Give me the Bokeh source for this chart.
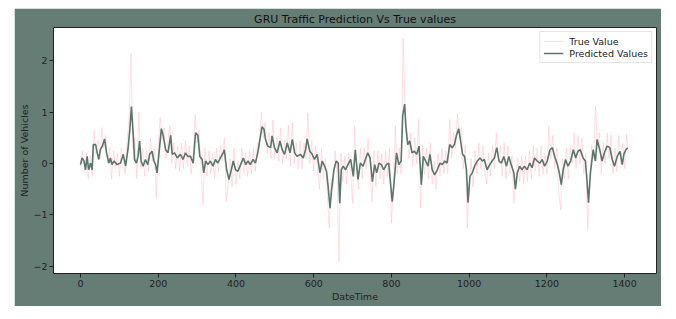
from bokeh.plotting import figure
from bokeh.models import Range1d, FixedTicker
from bokeh.embed import file_html
from bokeh.resources import INLINE

title_text = "GRU Traffic Prediction Vs True values"
x_label = "DateTime"
y_label = "Number of Vehicles"
x_ticks = [0, 200, 400, 600, 800, 1000, 1200, 1400]
y_ticks = [-2, -1, 0, 1, 2]

# predicted values (index, value)
pred_x = [0, 4, 9, 13, 17, 21, 26, 30, 33, 39, 43, 47, 51, 56, 62, 67, 73, 77, 81, 86,
          94, 103, 110, 116, 122, 127, 131, 136, 139, 144, 148, 152, 156, 161, 167, 173, 178, 184, 189, 193,
          197, 202, 208, 213, 219, 225, 232, 236, 242, 249, 257, 264, 270, 276, 283, 290, 296, 302, 307, 313,
          317, 322, 328, 334, 341, 347, 353, 360, 367, 370, 376, 382, 388, 393, 399, 405, 412, 419, 425, 431,
          437, 444, 450, 456, 461, 467, 472, 476, 482, 489, 493, 499, 506, 513, 519, 525, 532, 539, 545, 551,
          557, 566, 573, 579, 583, 590, 596, 602, 609, 616, 622, 628, 633, 637, 642, 646, 652, 658, 663, 667,
          671, 676, 682, 688, 695,
          702, 707, 714, 720, 727, 733, 739, 745, 751, 757, 762, 768, 774, 780, 787, 793, 798, 802, 806, 813,
          819, 825, 829, 834, 837, 842, 847, 853, 859, 865, 871, 877, 882, 888, 894, 899, 905, 911, 918, 925,
          931, 937, 943, 950, 956, 962, 967, 973, 978, 983, 988, 993, 997, 1002, 1008, 1014, 1021, 1028, 1034, 1039,
          1046, 1053, 1059, 1065, 1071, 1077, 1083, 1089, 1096, 1102, 1108, 1115, 1119, 1124, 1130, 1136, 1142, 1149, 1156, 1162,
          1168, 1175, 1182, 1188, 1194, 1201, 1208, 1214, 1220, 1227, 1232, 1237, 1242, 1248, 1254, 1261, 1268, 1274, 1280, 1286,
          1293, 1299, 1303, 1307, 1312, 1319, 1325, 1329, 1336, 1342, 1348, 1355, 1362, 1368, 1374, 1381, 1388, 1394, 1398, 1403,
          1408]
pred_y = [-0.02, 0.11, 0.05, -0.12, 0.14, -0.12, 0.01, -0.12, 0.37, 0.37, 0.21, 0.08, 0.27, 0.34, 0.48, 0.21, 0.01, 0.11, -0.02, 0.05,
          -0.02, 0.01, 0.18, -0.05, 0.27, 0.67, 1.11, 0.52, 0.08, 0.01, 0.14, 0.44, 0.05, -0.05, 0.08, -0.02, 0.18, 0.24, 0.05, -0.02,
          -0.18, 0.21, 0.68, 0.54, 0.27, 0.21, 0.55, 0.18, 0.21, 0.11, 0.18, 0.08, 0.21, 0.14, 0.14, 0.01, 0.60, 0.55, 0.14, 0.08,
          -0.18, 0.05, -0.02, 0.05, -0.05, 0.08, 0.01, 0.11, 0.21, 0.27, -0.12, -0.31, -0.12, 0.05, -0.12, -0.15, -0.02, 0.11, -0.02, 0.05,
          -0.02, 0.08, 0.01, 0.21, 0.44, 0.72, 0.67, 0.47, 0.34, 0.31, 0.54, 0.31, 0.21, 0.44, 0.27, 0.18, 0.40, 0.21, 0.47, 0.21,
          0.14, 0.18, 0.11, 0.27, 0.48, 0.24, 0.18, 0.08, 0.18, -0.18, 0.05, -0.05, -0.15, -0.44, -0.87, -0.51, -0.12, 0.05, 0.01, -0.77,
          -0.12, -0.05, -0.12, -0.02, 0.08,
          -0.25, 0.27, -0.31, 0.01, -0.05, 0.08, 0.21, 0.11, -0.35, -0.02, -0.18, 0.01, -0.02, -0.12, -0.02, 0.01, -0.41, -0.74, -0.44, 0.21,
          -0.02, 0.05, 0.93, 1.16, 0.73, 0.37, 0.44, 0.21, 0.24, 0.18, 0.34, -0.41, 0.14, 0.05, -0.05, 0.18, -0.12, -0.22, -0.12, 0.01,
          -0.02, 0.05, 0.01, 0.37, 0.31, 0.37, 0.54, 0.68, 0.44, 0.18, 0.14, -0.12, -0.76, -0.25, -0.18, -0.05, 0.05, 0.11, 0.05, 0.08,
          -0.12, -0.02, 0.05, 0.11, 0.31, 0.05, 0.01, 0.14, -0.05, 0.14, -0.02, -0.18, -0.50, -0.18, -0.05, -0.12, -0.05, -0.12, 0.01, -0.08,
          0.11, 0.05, 0.01, 0.08, -0.05, 0.05, 0.27, 0.31, 0.14, -0.02, -0.18, -0.41, -0.12, 0.08, -0.05, 0.05, 0.27, 0.11, 0.24, 0.27,
          0.11, 0.05, -0.31, -0.76, -0.18, 0.27, 0.05, 0.47, 0.27, 0.05, 0.21, 0.34, 0.31, 0.08, -0.05, 0.14, 0.24, -0.02, 0.18, 0.27,
          0.31]

# true values read every 5 steps
true_y = [-0.05, 0.25, -0.15, 0.2, -0.3, 0.15, -0.25, 0.65, 0.2, 0.45,
          0.1, 0.7, 0.3, 0.55, 0.0, 0.3, -0.3, 0.25, -0.1, 0.2,
          -0.25, 0.3, 0.05, -0.2, 0.45, 0.9, 2.15, 0.3, 0.5, -0.3,
          1.0, -0.1, 0.3, -0.25, 0.25, -0.15, 0.5, 0.05, 0.3, -0.67,
          0.35, 0.9, 0.45, 0.7, 0.1, 0.45, 0.75, 0.0, 0.4, -0.1,
          0.35, -0.15, 0.4, -0.1, 0.45, -0.05, 0.35, -0.2, 0.2, 0.96,
          0.4, 0.65, -0.1, -0.8, 0.3, -0.25, 0.25, -0.2, 0.2, -0.3,
          0.3, -0.15, 0.35, 0.05, 0.5, -0.74, -0.4, 0.1, -0.45, 0.3,
          -0.4, 0.05, -0.3, 0.3, -0.2, 0.2, -0.25, 0.25, -0.2, 0.3,
          -0.15, 0.4, 0.3, 1.0, 0.5, 0.8, 0.2, 0.6, 0.1, 0.85,
          0.1, 0.5, 0.05, 0.7, 0.0, 0.45, 0.1, 0.75, -0.05, 0.8,
          0.0, 0.4, -0.1, 0.45, -0.1, 0.4, 0.1, 0.99, 0.0, 0.45,
          -0.15, 0.35, -0.1, -0.5, 0.3, -0.3, 0.1, -0.6, -1.26, -0.3,
          -0.45, 0.25, -0.2, -1.91, 0.2, -0.35, 0.15, -0.4, 0.2, -0.2,
          -0.77, 0.73, -0.1, -0.5, 0.3, -0.3, 0.3, -0.1, 0.5, -0.1,
          -0.74, 0.25, -0.45, 0.25, -0.3, 0.2, -0.4, 0.25, -0.25, 0.3,
          -1.16, -0.5, 0.73, -0.2, 0.3, -0.2, 2.44, 1.0, 0.6, 0.1,
          0.6, -0.05, 0.5, 0.0, 0.86, -0.87, 0.35, -0.2, 0.3, -0.3,
          0.4, -0.4, 0.05, -0.5, 0.2, -0.25, 0.3, -0.2, 0.25, -0.2,
          0.86, 0.1, 0.6, 0.3, 0.96, 0.5, 0.7, -0.1, 0.35, -1.26,
          -0.5, 0.1, -0.45, 0.25, -0.2, 0.4, -0.1, 0.35, -0.15, -0.4,
          0.2, -0.25, 0.35, -0.1, 0.6, 0.05, 0.35, -0.25, 0.4, -0.3,
          0.35, -0.2, 0.15, -0.77, -0.3, 0.1, -0.35, 0.15, -0.4, 0.15,
          -0.35, 0.25, -0.3, 0.35, -0.15, 0.3, -0.25, 0.35, -0.2, 0.2,
          -0.2, 0.73, 0.1, 0.55, -0.1, 0.3, -0.5, -0.9, 0.1, -0.3,
          0.3, -0.3, 0.35, 0.0, 0.6, -0.1, 0.55, 0.0, 0.5, -0.2,
          0.2, -1.29, -0.4, 0.35, 0.1, 1.12, 0.3, 0.6, -0.2, 0.4,
          0.0, 0.6, 0.1, 0.55, -0.2, 0.3, -0.15, 0.55, 0.0, 0.4, -0.1, 0.57, 0.2]
true_x = list(range(0, 5 * len(true_y), 5))

BG = "#667d76"
LINE = "#5a766d"
PINK = "#ffc0cb"
FONT = "DejaVu Sans"

p = figure(width=647, height=298, output_backend="svg", toolbar_location=None,
           x_range=Range1d(-69.5, 1482), y_range=Range1d(-2.14, 2.65),
           min_border_left=39, min_border_right=5, min_border_top=0, min_border_bottom=33)
p.margin = (8, 0, 0, 14)
p.border_fill_color = BG
p.background_fill_color = "white"
p.outline_line_color = "#222222"
p.outline_line_width = 1

p.title.text = title_text
p.title.align = "center"
p.title.text_font = FONT
p.title.text_font_size = "11px"
p.title.text_font_style = "normal"
p.title.text_color = "#111111"
p.title.offset = 0
p.title.standoff = 4

p.line(true_x, true_y, line_color=PINK, line_alpha=0.5, line_width=1, legend_label="True Value")
p.line(pred_x, pred_y, line_color=LINE, line_width=1.6, legend_label="Predicted Values")

p.xgrid.visible = False
p.ygrid.visible = False

for ax in (p.xaxis[0], p.yaxis[0]):
    ax.axis_line_color = None
    ax.major_tick_line_color = "#222222"
    ax.major_tick_out = 4
    ax.major_tick_in = 0
    ax.minor_tick_line_color = None
    ax.major_label_text_font = FONT
    ax.major_label_text_font_size = "9.5px"
    ax.major_label_text_color = "#222222"
    ax.axis_label_text_font = FONT
    ax.axis_label_text_font_size = "9.5px"
    ax.axis_label_text_font_style = "normal"
    ax.axis_label_text_color = "#222222"
    ax.major_label_standoff = 2

p.xaxis.ticker = FixedTicker(ticks=x_ticks)
p.yaxis.ticker = FixedTicker(ticks=y_ticks)
p.yaxis.major_label_overrides = {t: (str(t).replace("-", "\u2212")) for t in y_ticks}
p.xaxis.axis_label = x_label
p.yaxis.axis_label = y_label
p.xaxis.axis_label_standoff = 1
p.yaxis.axis_label_standoff = 0

lg = p.legend[0]
lg.location = "top_right"
lg.margin = 4
lg.padding = 3
lg.spacing = 0
lg.glyph_width = 20
lg.glyph_height = 12
lg.label_height = 12
lg.label_standoff = 6
lg.label_text_font = FONT
lg.label_text_font_size = "9.5px"
lg.label_text_color = "#222222"
lg.border_line_color = "#cccccc"
lg.border_line_width = 1
lg.background_fill_alpha = 0.8

open("out.html", "w").write(file_html(p, INLINE))
